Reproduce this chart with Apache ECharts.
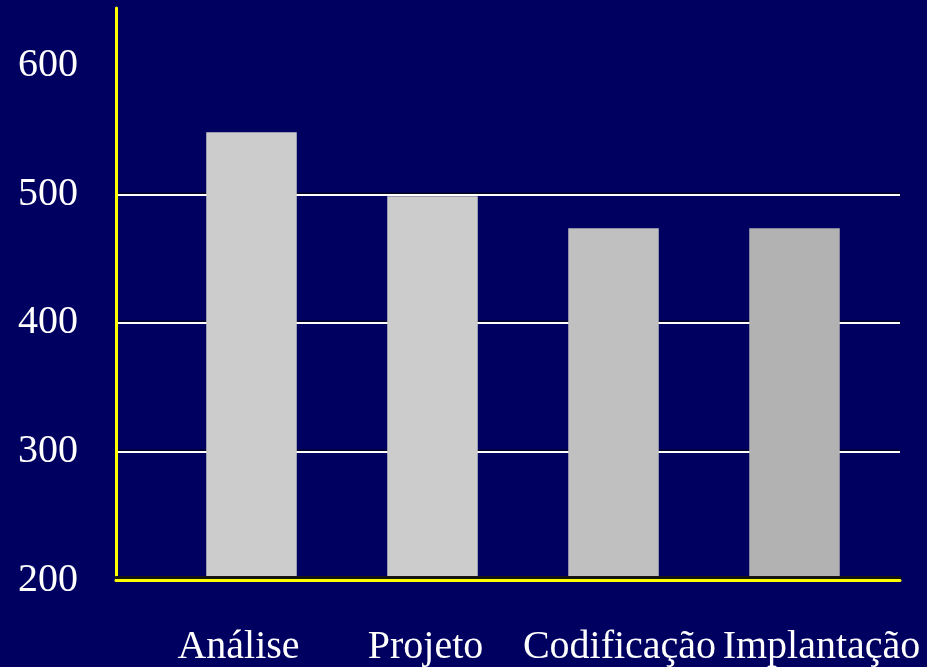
<!DOCTYPE html>
<html>
<head>
<meta charset="utf-8">
<style>
  html, body { margin: 0; padding: 0; background: #000060; }
  #chart { width: 927px; height: 667px; }
</style>
<script src="https://cdn.jsdelivr.net/npm/echarts@6/dist/echarts.min.js"></script>
</head>
<body>
<div id="chart"></div>
<script>
// Phases of the project and their values
const categories = ['Análise', 'Projeto', 'Codificação', 'Implantação'];
const values = [548, 498, 473, 473];
// Horizontal reference lines
const gridValues = [300, 400, 500];

// Shades for each bar, lightest first
const barColors = ['#cccccc', '#cccccc', '#c0c0c0', '#b2b2b2'];
// Horizontal nudge (px) for each category label
const labelShift = [-13, -7, 6, 27];

const FONT = '"Liberation Serif", "Times New Roman", serif';
const Y_MIN = 200, Y_MAX = 645;

const chart = echarts.init(document.getElementById('chart'), null, { renderer: 'canvas' });

chart.setOption({
  backgroundColor: '#000060',
  animation: false,
  grid: [
    // frame: yellow axes, value labels and reference lines
    { left: 116, right: 27, top: 8, bottom: 87 },
    // bars and category labels
    { left: 161, width: 724, top: 8, bottom: 87 }
  ],
  xAxis: [
    {
      gridIndex: 0, type: 'value', min: 0, max: 1, z: 5,
      axisLine: { show: true, lineStyle: { color: '#ffff00', width: 3, shadowColor: '#141414', shadowOffsetY: -3 } },
      axisTick: { show: false }, axisLabel: { show: false }, splitLine: { show: false }
    },
    {
      gridIndex: 1, type: 'category', data: categories.map((c, i) => ({
        value: c,
        textStyle: { padding: labelShift[i] > 0 ? [0, 0, 0, 2 * labelShift[i]] : [0, -2 * labelShift[i], 0, 0] }
      })),
      axisLine: { show: false }, axisTick: { show: false },
      axisLabel: { interval: 0, hideOverlap: false, color: '#ffffff', fontFamily: FONT, fontSize: 40, margin: 49 },
      splitLine: { show: false }
    }
  ],
  yAxis: [
    {
      gridIndex: 0, type: 'value', min: Y_MIN, max: Y_MAX, interval: 100, z: 5,
      axisLine: { show: true, lineStyle: { color: '#ffff00', width: 3 } },
      axisTick: { show: false },
      axisLabel: { color: '#ffffff', fontFamily: FONT, fontSize: 40, margin: 38, showMaxLabel: false, padding: [6, 0, 0, 0] },
      splitLine: { show: false }
    },
    {
      gridIndex: 1, type: 'value', min: Y_MIN, max: Y_MAX, show: false,
      splitLine: { show: false }
    }
  ],
  series: [
    {
      type: 'line', xAxisIndex: 0, yAxisIndex: 0, data: [], silent: true, z: 1,
      markLine: {
        silent: true, symbol: 'none', z: 1, label: { show: false },
        lineStyle: { color: '#ffffff', width: 2, type: 'solid', shadowColor: 'rgba(0,0,0,0.6)', shadowOffsetY: -1.5 },
        data: gridValues.map(v => ({ yAxis: v }))
      }
    },
    {
      type: 'bar', xAxisIndex: 1, yAxisIndex: 1, barWidth: '50%', z: 3,
      data: values.map((v, i) => ({ value: v, itemStyle: { color: barColors[i] } }))
    }
  ]
});
</script>
</body>
</html>
